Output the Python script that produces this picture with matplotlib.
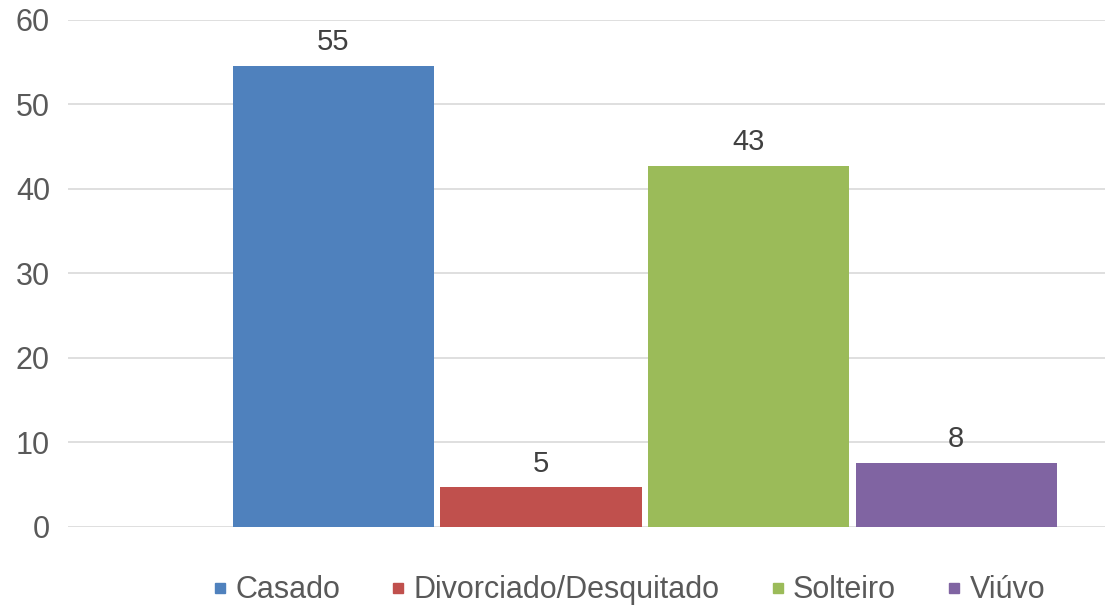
import matplotlib.pyplot as plt
from matplotlib.lines import Line2D

plt.rcParams['font.family'] = ['Liberation Sans', 'DejaVu Sans']

series = ['Casado', 'Divorciado/Desquitado', 'Solteiro', 'Viúvo']
values = [54.6, 4.7, 42.7, 7.6]
colors = ['#4F81BD', '#C0504D', '#9BBB59', '#8064A2']
yticks = [0, 10, 20, 30, 40, 50, 60]

fig = plt.figure(figsize=(11.05, 6.13), dpi=100)
ax = fig.add_axes([0.0615, 0.1403, 0.9385, 0.8271])

pos = list(range(len(series)))
bars = ax.bar(pos, values, width=0.97, color=colors, zorder=3)
ax.bar_label(bars, labels=[f'{v:.0f}' for v in values], padding=7,
             fontsize=21, color='#404040')

ax.set_xlim(-1.279, 3.716)
ax.set_ylim(0, 60)
ax.set_yticks(yticks)
ax.set_xticks([])
ax.grid(axis='y', color='#D9D9D9', linewidth=1.2, zorder=0)
for s in ax.spines.values():
    s.set_visible(False)
ax.tick_params(axis='y', length=0, labelsize=22, labelcolor='#595959', pad=13)

handles = [Line2D([], [], marker='s', linestyle='', markersize=7,
                  markerfacecolor=c, markeredgecolor=c) for c in colors]
fig.legend(handles, series, loc='center', bbox_to_anchor=(0.567, 0.037),
           ncol=4, frameon=False, fontsize=22, labelcolor='#595959',
           handletextpad=0.1, columnspacing=1.5, handlelength=0.8)

fig.savefig('out.png', dpi=100)
